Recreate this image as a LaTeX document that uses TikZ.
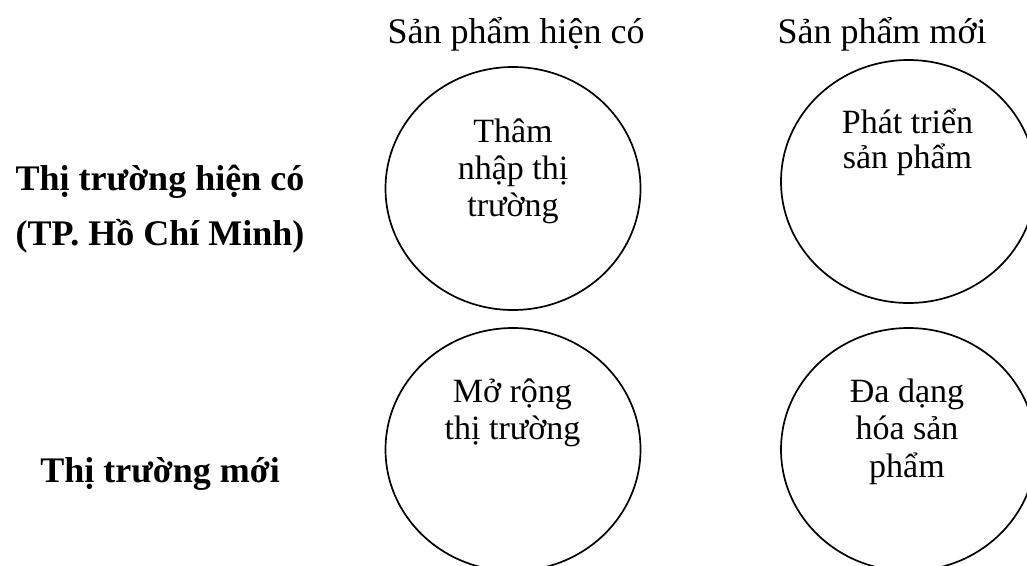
\documentclass[tikz,border=0pt]{standalone}
\usepackage{fontspec}
\setmainfont{Liberation Serif}
\usetikzlibrary{shapes.geometric}
% centred stack of lines whose reference point is the first baseline
\newcommand\linestack[1]{\begin{tabular}[t]{@{}c@{}}#1\end{tabular}}
\begin{document}
\begin{tikzpicture}[x=1pt, y=-1pt,
  quadrant/.style={ellipse, draw, line width=1.7pt, minimum width=255pt, minimum height=243pt, inner sep=0pt},
  header/.style={anchor=base, inner sep=0pt, font=\fontsize{36}{40}\selectfont},
  rowlabel/.style={anchor=base, inner sep=0pt, font=\bfseries\fontsize{36}{55}\selectfont},
  celltext/.style={anchor=base, inner sep=0pt, font=\fontsize{34}{37}\selectfont},
]
\useasboundingbox (0,0) rectangle (1027,565);

% column headings
\node[header] (hExisting) at (516,43) {Sản phẩm hiện có};
\node[header] (hNew) at (882,43) {Sản phẩm mới};

% row headings
\node[rowlabel] (rExisting) at (160,190) {\linestack{Thị trường hiện có\\(TP. Hồ Chí Minh)}};
\node[rowlabel] (rNew) at (160,482) {Thị trường mới};

% the four strategy circles
\node[quadrant] (penetration) at (513,188.5) {};
\node[quadrant] (development) at (908.5,181.5) {};
\node[quadrant] (expansion) at (513,449.5) {};
\node[quadrant] (diversification) at (908.5,449.5) {};

% strategy names
\node[celltext] (tPenetration) at (513,142) {\linestack{Thâm\\nhập thị\\trường}};
\node[celltext, font=\fontsize{34}{35}\selectfont] (tDevelopment) at (907.5,133) {\linestack{Phát triển\\sản phẩm}};
\node[celltext, font=\fontsize{34}{37.5}\selectfont] (tExpansion) at (512.5,402) {\linestack{Mở rộng\\thị trường}};
\node[celltext, font=\fontsize{34}{37.5}\selectfont] (tDiversification) at (907,402) {\linestack{Đa dạng\\hóa sản\\phẩm}};
\end{tikzpicture}
\end{document}
